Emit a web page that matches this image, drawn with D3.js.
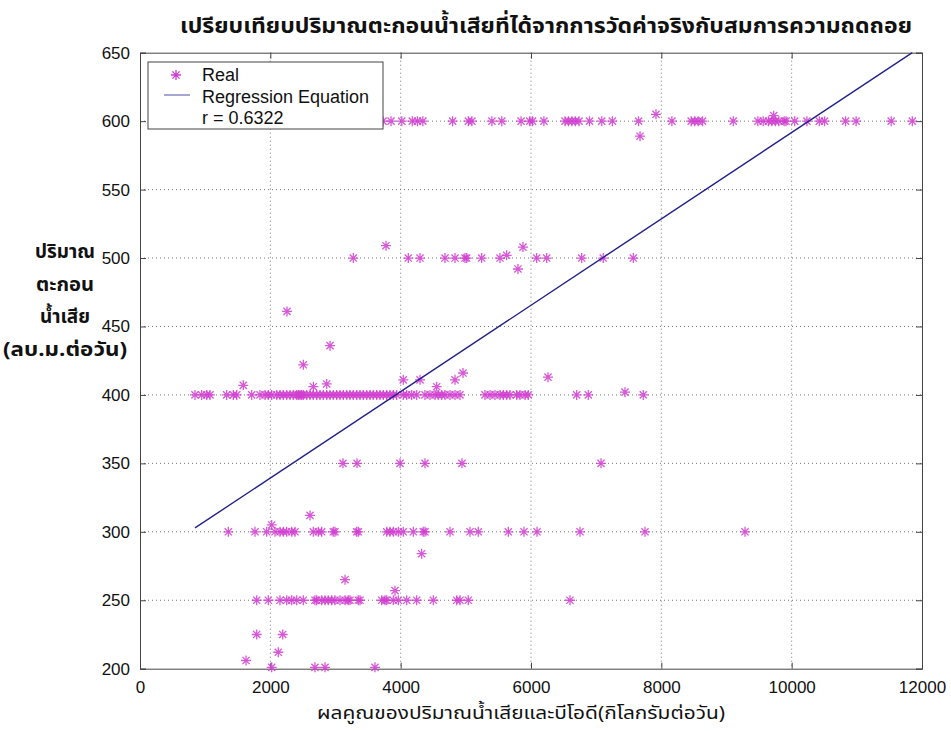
<!DOCTYPE html>
<html><head><meta charset="utf-8">
<script src="https://cdn.jsdelivr.net/npm/d3@7"></script>
<style>body{margin:0;background:#fff} svg{display:block}</style>
</head><body><svg id="c" width="951" height="731"></svg>
<script>
const title = "เปรียบเทียบปริมาณตะกอนน้ำเสียที่ได้จากการวัดค่าจริงกับสมการความถดถอย";
const xLabel = "ผลคูณของปริมาณน้ำเสียและบีโอดี(กิโลกรัมต่อวัน)";
const yLabelLines = ["ปริมาณ", "ตะกอน", "น้ำเสีย", "(ลบ.ม.ต่อวัน)"];
const legendLabels = ["Real", "Regression Equation", "r = 0.6322"];
const xTicks = [0, 2000, 4000, 6000, 8000, 10000, 12000];
const yTicks = [200, 250, 300, 350, 400, 450, 500, 550, 600, 650];

// x-values of "Real" points lying on each flow level
const x600 = [2655, 2793, 2916, 3084, 3284, 3729, 3852, 4017, 4178, 4258, 4340, 4797, 5039, 5093, 5400, 5552, 5847, 5981, 6024, 6198, 6522, 6574, 6628, 6681, 6737, 6898, 7086, 7248, 7651, 8162, 8458, 8512, 8566, 8632, 9104, 9482, 9563, 9643, 9697, 9750, 9804, 9885, 9913, 10047, 10234, 10424, 10505, 10827, 10989, 11527, 11851];
const x500 = [3273, 4117, 4297, 4680, 4834, 4987, 5013, 5243, 5524, 6087, 6241, 6778, 7109, 7570];
const x400 = [844, 947, 1024, 1074, 1330, 1432, 1484, 1714, 1841, 1918, 1969, 2021, 2098, 2148, 2199, 2251, 2302, 2352, 2405, 2429, 2455, 2481, 2506, 2558, 2609, 2659, 2711, 2762, 2813, 2865, 2916, 2966, 3018, 3069, 3120, 3172, 3222, 3273, 3325, 3376, 3426, 3479, 3529, 3580, 3632, 3683, 3733, 3786, 3836, 3887, 3939, 4040, 4093, 4169, 4246, 4373, 4450, 4527, 4577, 4630, 4680, 4757, 4834, 4910, 5294, 5371, 5447, 5524, 5576, 5627, 5678, 5780, 5831, 5908, 5958, 6701, 6879, 7723];
const x350 = [3115, 3330, 3990, 4373, 4941, 7074];
const x300 = [1355, 1765, 1944, 2072, 2148, 2199, 2251, 2328, 2379, 2659, 2736, 2788, 2966, 2992, 3325, 3350, 3786, 3836, 3887, 3964, 4040, 4194, 4347, 4373, 4757, 5064, 5191, 5652, 5892, 6092, 6752, 7749, 9284];
const x250 = [1791, 1969, 2148, 2251, 2328, 2405, 2506, 2685, 2711, 2788, 2839, 2889, 2942, 2992, 3069, 3146, 3196, 3222, 3350, 3376, 3709, 3760, 3786, 3887, 3964, 4093, 4246, 4501, 4860, 4910, 5038, 6598];
// remaining "Real" points (x, y pairs)
const otherX = [7918, 7673, 9724, 3775, 5877, 5800, 5627, 7442, 1585, 2660, 2865, 2506, 2916, 2256, 4040, 4297, 4553, 4834, 4957, 6261, 2021, 2609, 4322, 3146, 3913, 1627, 1791, 2190, 2122, 2021, 2685, 2839, 3606];
const otherY = [605, 589, 604, 509, 508, 492, 502, 402, 407, 406, 408, 422, 436, 461, 411, 411, 406, 411, 416, 413, 305, 312, 284, 265, 257, 206, 225, 225, 212, 201, 201, 201, 201];
// regression line y = a + b x over the data range
const regA = 276.2, regB = 0.03155;
const regX = [844, 11851];

const points = [];
[[x600, 600], [x500, 500], [x400, 400], [x350, 350], [x300, 300], [x250, 250]].forEach(([xs, lv]) => xs.forEach(x => points.push([x, lv])));
otherX.forEach((x, i) => points.push([x, otherY[i]]));

const svg = d3.select("#c");
const L = 140, R = 922, T = 52.7, B = 668.7;
const x = d3.scaleLinear().domain([0, 12000]).range([L, R]);
const y = d3.scaleLinear().domain([200, 650]).range([B, T]);
const tickFont = "'Liberation Sans', Arial, sans-serif";
const thaiFont = "'Noto Sans Thai', 'Loma', 'Garuda', 'Norasi', 'Tlwg Typo', 'DejaVu Sans', 'Noto Sans', sans-serif";

svg.append("rect").attr("width", 951).attr("height", 731).attr("fill", "#fff");
svg.append("rect").attr("x", L).attr("y", T).attr("width", R - L).attr("height", B - T).attr("fill", "#fff");

// grid
const grid = svg.append("g").attr("stroke", "#777").attr("stroke-width", 1).attr("stroke-dasharray", "1,3");
grid.selectAll(".gx").data(xTicks.slice(1, -1)).join("line")
  .attr("x1", d => x(d)).attr("x2", d => x(d)).attr("y1", T).attr("y2", B);
grid.selectAll(".gy").data(yTicks.slice(1, -1)).join("line")
  .attr("x1", L).attr("x2", R).attr("y1", d => y(d)).attr("y2", d => y(d));

// axes with inward ticks
const axB = svg.append("g").attr("transform", `translate(0,${B})`)
  .call(d3.axisBottom(x).tickValues(xTicks).tickSize(-6).tickPadding(12).tickFormat(d3.format("d")));
const axT = svg.append("g").attr("transform", `translate(0,${T})`)
  .call(d3.axisTop(x).tickValues(xTicks).tickSize(-6).tickFormat(""));
const axL = svg.append("g").attr("transform", `translate(${L},0)`)
  .call(d3.axisLeft(y).tickValues(yTicks).tickSize(-6).tickPadding(10).tickFormat(d3.format("d")));
const axR = svg.append("g").attr("transform", `translate(${R},0)`)
  .call(d3.axisRight(y).tickValues(yTicks).tickSize(-6).tickFormat(""));
[axB, axT, axL, axR].forEach(a => {
  a.select(".domain").attr("stroke", "#444");
  a.selectAll(".tick line").attr("stroke", "#444");
  a.selectAll("text").attr("font-family", tickFont).attr("font-size", 17).attr("fill", "#111");
});
axB.selectAll("text").attr("dy", "0.71em");

// star marker
const r = 5, dd = 3.6;
const star = `M${-r},0H${r}M0,${-r}V${r}M${-dd},${-dd}L${dd},${dd}M${-dd},${dd}L${dd},${-dd}`;
svg.append("g").selectAll("path").data(points).join("path")
  .attr("d", star).attr("transform", d => `translate(${x(d[0])},${y(d[1])})`)
  .attr("fill", "none").attr("stroke", "#d03cd0").attr("stroke-width", 1.3).attr("stroke-opacity", 0.85);

// regression line
svg.append("line")
  .attr("x1", x(regX[0])).attr("y1", y(regA + regB * regX[0]))
  .attr("x2", x(regX[1])).attr("y2", y(regA + regB * regX[1]))
  .attr("stroke", "#22228a").attr("stroke-width", 1.4);

// legend
const lg = svg.append("g");
lg.append("rect").attr("x", 148).attr("y", 62).attr("width", 235).attr("height", 67)
  .attr("fill", "#fff").attr("stroke", "#444").attr("stroke-width", 1);
lg.append("path").attr("d", star).attr("transform", "translate(176,75)")
  .attr("fill", "none").attr("stroke", "#d03cd0").attr("stroke-width", 1.3);
lg.append("line").attr("x1", 164).attr("x2", 190).attr("y1", 95).attr("y2", 95)
  .attr("stroke", "#6a6ab8").attr("stroke-width", 1.2);
lg.selectAll("text").data(legendLabels).join("text")
  .attr("x", 202).attr("y", (d, i) => 81 + i * 21.5)
  .attr("font-family", tickFont).attr("font-size", 18).attr("fill", "#111").text(d => d);

// title
svg.append("text").attr("x", 546).attr("y", 33).attr("text-anchor", "middle")
  .attr("font-family", thaiFont).attr("font-weight", "bold").attr("font-size", 22)
  .attr("textLength", 732).attr("lengthAdjust", "spacingAndGlyphs").attr("fill", "#111").text(title);

// x label
svg.append("text").attr("x", 521).attr("y", 719).attr("text-anchor", "middle")
  .attr("font-family", thaiFont).attr("font-size", 18)
  .attr("textLength", 408).attr("lengthAdjust", "spacingAndGlyphs").attr("fill", "#111").text(xLabel);

// y label
const yW = [60, 58, 50, 124];
svg.append("g").selectAll("text").data(yLabelLines).join("text")
  .attr("x", 65).attr("y", (d, i) => 258 + i * 32.5).attr("text-anchor", "middle")
  .attr("font-family", thaiFont).attr("font-weight", "bold").attr("font-size", 19)
  .attr("textLength", (d, i) => yW[i]).attr("lengthAdjust", "spacingAndGlyphs")
  .attr("fill", "#111").text(d => d);
</script></body></html>
